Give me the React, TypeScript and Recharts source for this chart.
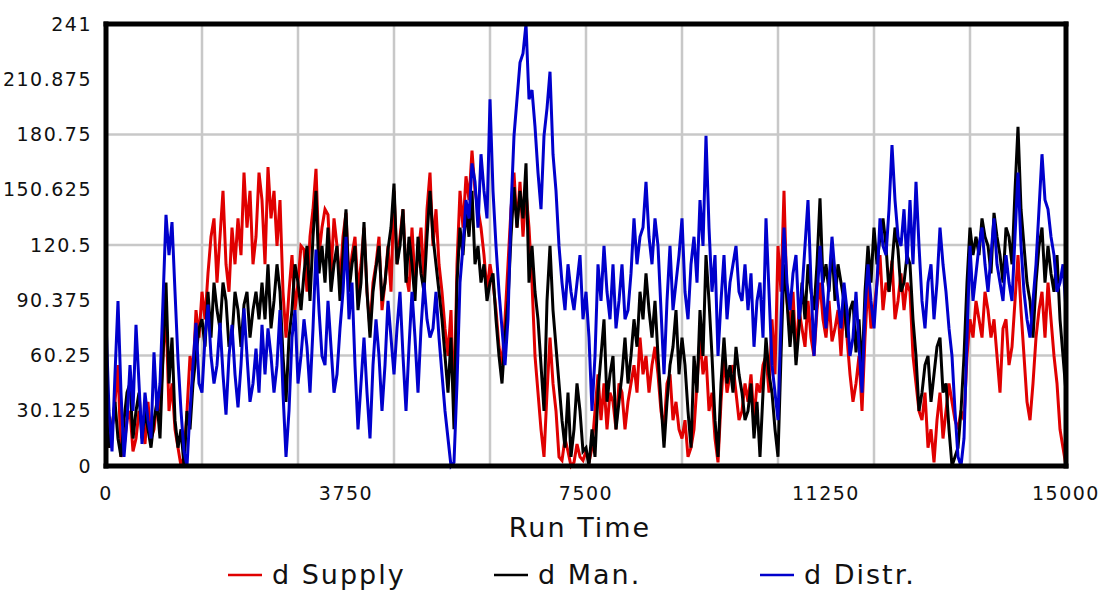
import { LineChart, Line, XAxis, YAxis, CartesianGrid, Legend, Label } from "recharts";

// d Supply (red), every ~47 time units
const supply = [
  40, 10, 20, 35, 55, 5, 10, 25, 30, 8, 15, 30, 25, 12, 35, 15, 20, 35, 30, 60, 85, 30, 45, 20, 10, 0, 5, 30, 60, 50, 85, 70, 95, 80, 105, 125, 135, 100, 125, 150, 110, 95, 130, 110, 135, 115, 160, 130, 150, 110, 125, 160, 145, 110,
  163, 135, 150, 120, 145, 95, 70, 95, 115, 85, 100, 120, 118, 95, 125, 140, 162, 115, 130, 140, 137, 105, 135, 120, 100, 125, 138, 100, 115, 125, 95, 110, 130, 95, 75, 100, 110, 125, 85, 100, 120, 95, 150, 110, 125, 140, 105, 95, 130, 100, 115, 130, 100, 140,
  160, 120, 140, 110, 95, 75, 60, 85, 30, 110, 150, 130, 158, 145, 172, 150, 140, 130, 115, 95, 110, 100, 85, 65, 55, 80, 110, 140, 160, 130, 155, 125, 150, 130, 100, 60, 40, 20, 5, 40, 70, 45, 30, 5, 3, 15, 8, 0, 2, 12, 5, 3,
  8, 2, 10, 30, 50, 25, 45, 20, 40, 35, 20, 45, 40, 20, 35, 45, 55, 40, 70, 50, 60, 40, 55, 65, 50, 30, 20, 45, 50, 25, 35, 20, 15, 25, 5, 10, 20, 45, 70, 50, 60, 30, 40, 15, 2, 35, 60, 40, 50, 55, 40, 25, 30, 45,
  35, 50, 25, 45, 40, 55, 60, 40, 80, 50, 120, 95, 150, 90, 75, 95, 60, 85, 75, 65, 90, 70, 60, 85, 100, 80, 70, 90, 68, 75, 85, 60, 90, 70, 50, 35, 45, 60, 30, 70, 100, 75, 85, 100, 115, 85, 100, 95, 112, 80, 90, 105, 85, 100,
  95, 60, 45, 30, 25, 40, 10, 20, 2, 25, 40, 15, 30, 45, 35, 25, 20, 30, 25, 60, 80, 70, 90, 80, 70, 95, 85, 70, 80, 60, 40, 75, 80, 55, 65, 90, 115, 85, 60, 35, 25, 45, 70, 85, 95, 70, 100, 80, 60, 45, 20, 10, 0,
];

// d Man. (black)
const man = [
  30, 10, 20, 35, 15, 5, 25, 40, 45, 15, 30, 40, 15, 30, 20, 10, 25, 35, 15, 60, 100, 45, 70, 25, 10, 20, 0, 30, 20, 45, 60, 75, 80, 65, 95, 70, 100, 85, 75, 100, 90, 65, 70, 95, 85, 65, 88, 95, 70, 85, 95, 80, 100, 80,
  110, 75, 90, 110, 95, 60, 35, 70, 85, 110, 100, 85, 105, 120, 90, 125, 150, 105, 120, 100, 130, 95, 110, 120, 90, 115, 140, 95, 110, 120, 85, 100, 133, 95, 70, 95, 108, 120, 90, 100, 118, 130, 154, 110, 120, 140, 100, 125, 110, 90, 125, 105, 95, 125,
  150, 125, 110, 95, 80, 60, 40, 70, 20, 100, 130, 115, 140, 125, 150, 110, 120, 100, 110, 90, 100, 105, 80, 60, 45, 70, 90, 125, 152, 130, 150, 135, 165, 100, 120, 95, 80, 55, 30, 90, 120, 85, 65, 45, 25, 10, 40, 5, 20, 45, 30, 8,
  10, 0, 20, 5, 40, 60, 80, 35, 50, 60, 20, 35, 50, 70, 45, 60, 80, 65, 95, 80, 105, 85, 70, 90, 60, 35, 10, 35, 55, 65, 85, 50, 70, 55, 30, 10, 60, 40, 85, 60, 115, 90, 60, 25, 5, 45, 70, 45, 55, 40, 65, 50, 40, 25,
  30, 45, 15, 35, 5, 40, 70, 50, 40, 20, 5, 60, 110, 90, 65, 85, 55, 75, 100, 80, 110, 95, 85, 110, 146, 100, 110, 95, 120, 90, 110, 100, 90, 70, 85, 90, 62, 80, 50, 95, 120, 100, 130, 110, 125, 135, 120, 95, 110, 130, 118, 95, 100, 115,
  110, 80, 60, 30, 40, 55, 60, 35, 50, 65, 70, 40, 45, 20, 0, 5, 10, 30, 60, 100, 130, 115, 125, 115, 135, 125, 120, 105, 138, 125, 115, 100, 130, 125, 110, 150, 185, 140, 120, 100, 90, 70, 100, 120, 130, 100, 120, 105, 95, 115, 80, 60, 40,
];

// d Distr. (blue)
const distr = [
  80, 30, 8, 50, 90, 40, 5, 25, 55, 30, 77, 45, 12, 40, 25, 15, 62, 30, 45, 90, 137, 115, 133, 95, 58, 30, 8, 0, 30, 55, 78, 45, 40, 70, 88, 60, 45, 55, 78, 50, 28, 60, 77, 50, 32, 55, 86, 60, 35, 45, 64, 40, 77, 50,
  75, 60, 40, 55, 85, 40, 5, 30, 70, 85, 45, 60, 80, 65, 40, 75, 118, 85, 60, 55, 90, 65, 40, 50, 75, 95, 125, 80, 100, 55, 20, 45, 70, 40, 15, 55, 80, 60, 30, 55, 90, 70, 50, 75, 95, 60, 30, 65, 95, 70, 40, 75, 100, 80,
  70, 75, 95, 70, 50, 30, 15, 0, 2, 45, 100, 120, 145, 135, 165, 155, 130, 170, 150, 135, 200, 150, 120, 95, 75, 55, 80, 140, 180, 200, 220, 225, 241, 200, 205, 185, 160, 140, 180, 195, 215, 170, 150, 120, 100, 85, 110, 95, 85, 100, 115, 80,
  95, 70, 30, 60, 110, 90, 120, 95, 80, 110, 75, 90, 110, 80, 85, 105, 135, 110, 125, 130, 155, 125, 110, 135, 120, 85, 50, 90, 120, 85, 100, 115, 135, 95, 80, 110, 125, 100, 145, 120, 180, 130, 95, 115, 60, 90, 115, 80, 100, 110, 120, 95, 90, 110,
  85, 105, 65, 90, 100, 70, 135, 95, 55, 40, 25, 80, 130, 100, 85, 105, 115, 80, 95, 120, 145, 100, 60, 90, 120, 95, 75, 100, 125, 105, 90, 75, 100, 85, 60, 70, 95, 65, 40, 85, 110, 90, 75, 100, 135, 120, 115, 140, 175, 145, 125, 120, 140, 110,
  145, 110, 155, 120, 90, 75, 100, 110, 80, 100, 130, 110, 95, 75, 60, 30, 5, 0, 15, 70, 120, 90, 105, 120, 130, 110, 95, 115, 135, 110, 100, 90, 115, 100, 90, 125, 160, 120, 95, 80, 70, 90, 110, 140, 170, 145, 140, 125, 115, 95, 100, 110, 85,
];

const xTicks = [0, 3750, 7500, 11250, 15000];
const yTicks = [0, 30.125, 60.25, 90.375, 120.5, 150.625, 180.75, 210.875, 241];
const xMinorTicks = [0, 937.5, 1875, 2812.5, 3750, 4687.5, 5625, 6562.5, 7500, 8437.5, 9375, 10312.5, 11250, 12187.5, 13125, 14062.5, 15000];
const yMinorTicks = [0, 15.0625, 30.125, 45.1875, 60.25, 75.3125, 90.375, 105.4375, 120.5, 135.5625, 150.625, 165.6875, 180.75, 195.8125, 210.875, 225.9375, 241];
const xGrid = [1500, 3000, 4500, 6000, 7500, 9000, 10500, 12000, 13500];
const yGrid = [60.25, 120.5, 180.75];
const legendOrder = ["d Supply", "d Man.", "d Distr."];

const data = supply.map((s, i) => ({ t: i * 46.875, supply: s, man: man[i], distr: distr[i] }));

const tickFont = { fill: "#111", fontSize: 19, fontFamily: "DejaVu Sans", letterSpacing: 1.5 };
const frame = { stroke: "#000", strokeWidth: 5, strokeLinecap: "square" as const };
const green = { stroke: "#21a036", strokeWidth: 2 };

function renderLegend(props: any) {
  const items = [...(props.payload || [])].sort(
    (a: any, b: any) => legendOrder.indexOf(a.value) - legendOrder.indexOf(b.value)
  );
  return (
    <div style={{ display: "flex", paddingLeft: 228, fontFamily: "DejaVu Sans", fontSize: 27, color: "#111", letterSpacing: 2 }}>
      {items.map((it: any) => (
        <div key={it.value} style={{ width: 266, display: "flex", alignItems: "center" }}>
          <svg width={34} height={6} style={{ marginRight: 10 }}>
            <line x1={0} y1={3} x2={34} y2={3} stroke={it.color} strokeWidth={2.5} />
          </svg>
          <span>{it.value}</span>
        </div>
      ))}
    </div>
  );
}

export default function App() {
  return (
    <div style={{ position: "absolute", left: 0, top: 0, background: "#fff" }}>
      <LineChart width={1106} height={594} data={data} margin={{ top: 24, right: 40, left: 6, bottom: 57 }}>
        <CartesianGrid horizontalValues={yGrid} verticalValues={xGrid} stroke="#c8c8c8" strokeWidth={2.5} />
        <Line dataKey="supply" name="d Supply" stroke="#e00000" strokeWidth={3} dot={false} activeDot={false} isAnimationActive={false} />
        <Line dataKey="man" name="d Man." stroke="#000000" strokeWidth={3} dot={false} activeDot={false} isAnimationActive={false} />
        <Line dataKey="distr" name="d Distr." stroke="#0000cc" strokeWidth={3} dot={false} activeDot={false} isAnimationActive={false} />
        <XAxis dataKey="t" type="number" domain={[0, 15000]} ticks={xTicks} interval={0} tickLine={false} tickSize={0} tickMargin={21}
          axisLine={frame} tick={tickFont} height={71}>
          <Label value="Run Time" position="insideBottom" offset={0} dx={-6} style={{ fontSize: 27, fontFamily: "DejaVu Sans", fill: "#111", letterSpacing: 2 }} />
        </XAxis>
        <XAxis xAxisId="top" orientation="top" mirror type="number" domain={[0, 15000]} ticks={xMinorTicks} interval={0}
          tick={false} tickLine={green} tickSize={8} axisLine={frame} height={10} />
        <XAxis xAxisId="bottomMinor" orientation="bottom" mirror type="number" domain={[0, 15000]} ticks={xMinorTicks} interval={0}
          tick={false} tickLine={green} tickSize={8} axisLine={false} height={10} />
        <YAxis type="number" domain={[0, 241]} ticks={yTicks} interval={0} tickLine={false} tickSize={0} tickMargin={14}
          axisLine={frame} tick={tickFont} width={100} />
        <YAxis yAxisId="leftMinor" orientation="left" mirror type="number" domain={[0, 241]} ticks={yMinorTicks} interval={0}
          tick={false} tickLine={green} tickSize={9} axisLine={false} width={10} />
        <YAxis yAxisId="right" orientation="right" mirror type="number" domain={[0, 241]} ticks={yMinorTicks} interval={0}
          tick={false} tickLine={green} tickSize={9} axisLine={frame} width={10} />
        <Legend layout="horizontal" verticalAlign="middle" align="center" content={renderLegend}
          wrapperStyle={{ top: 559, left: 0, width: 1106 }} />
      </LineChart>
    </div>
  );
}
